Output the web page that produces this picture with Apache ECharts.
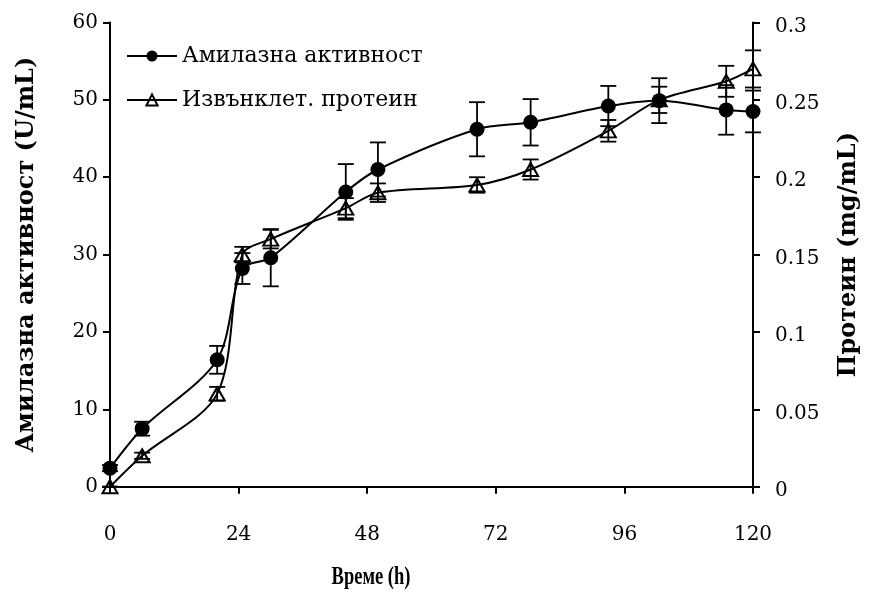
<!DOCTYPE html>
<html>
<head>
<meta charset="utf-8">
<script src="https://cdn.jsdelivr.net/npm/echarts@6/dist/echarts.min.js"></script>
<style>
  html, body { margin: 0; padding: 0; background: #fff; }
  #chart { width: 880px; height: 600px; }
</style>
</head>
<body>
<div id="chart"></div>
<script>
// Sampling times (h)
const times = [0, 6, 20, 24.7, 30, 44, 50, 68.5, 78.5, 93, 102.5, 115, 120];

// Amylase activity (U/mL) and its standard deviation
const amylase = [2.4, 7.5, 16.4, 28.2, 29.6, 38.1, 41.0, 46.2, 47.1, 49.2, 49.9, 48.7, 48.5];
const amylaseErr = [0.4, 0.9, 1.8, 2.0, 3.7, 3.6, 3.5, 3.5, 3.0, 2.6, 2.9, 3.2, 2.7];

// Extracellular protein (mg/mL) and its standard deviation
const protein = [0, 0.02, 0.06, 0.15, 0.16, 0.18, 0.19, 0.195, 0.205, 0.23, 0.25, 0.262, 0.27];
const proteinErr = [0, 0.002, 0.0045, 0.005, 0.006, 0.0065, 0.006, 0.005, 0.0065, 0.007, 0.0085, 0.01, 0.012];

const xTicks = [0, 24, 48, 72, 96, 120];
const seriesNames = ['Амилазна активност', 'Извънклет. протеин'];
const xTitle = 'Време (h)';

const FONT = '"DejaVu Serif", "Liberation Serif", serif';

function pairs(xs, ys) {
  return xs.map((x, i) => [x, ys[i]]);
}

function errorBars(name, yAxisIndex, xs, ys, es) {
  return {
    name: name + ' SD',
    type: 'custom',
    yAxisIndex: yAxisIndex,
    z: 5,
    silent: true,
    encode: { x: 0, y: [1, 2] },
    data: xs.map((x, i) => [x, ys[i] - es[i], ys[i] + es[i]]),
    renderItem: function (params, api) {
      const lo = api.coord([api.value(0), api.value(1)]);
      const hi = api.coord([api.value(0), api.value(2)]);
      const hw = 8;
      const style = { stroke: '#000', lineWidth: 1.8, fill: null };
      return {
        type: 'group',
        children: [
          { type: 'line', shape: { x1: lo[0], y1: lo[1], x2: hi[0], y2: hi[1] }, style: style },
          { type: 'line', shape: { x1: lo[0] - hw, y1: lo[1], x2: lo[0] + hw, y2: lo[1] }, style: style },
          { type: 'line', shape: { x1: hi[0] - hw, y1: hi[1], x2: hi[0] + hw, y2: hi[1] }, style: style }
        ]
      };
    }
  };
}

const axisLineStyle = { show: true, lineStyle: { color: '#000', width: 2 } };
const axisTickStyle = { show: true, inside: false, length: 7, lineStyle: { color: '#000', width: 2 } };
const tickFont = { color: '#000', fontFamily: FONT, fontSize: 20 };
const nameFont = { color: '#000', fontFamily: FONT, fontSize: 24, fontWeight: 'bold' };

const chart = echarts.init(document.getElementById('chart'), null, { renderer: 'canvas' });

chart.setOption({
  backgroundColor: '#fff',
  animation: false,
  grid: { left: 110, right: 127, top: 22.5, bottom: 113.3 },
  legend: {
    data: seriesNames,
    orient: 'vertical',
    left: 121,
    top: 40,
    itemWidth: 50,
    itemHeight: 14,
    itemGap: 22,
    textStyle: { color: '#000', fontFamily: FONT, fontSize: 22, lineHeight: 22 }
  },
  // horizontal axis title, in a narrow bold face
  graphic: [
    {
      type: 'text',
      x: 371,
      y: 578,
      scaleX: 0.74,
      silent: true,
      style: {
        text: xTitle,
        fill: '#000',
        font: 'bold 25px "Liberation Serif", serif',
        textAlign: 'center',
        textVerticalAlign: 'middle'
      }
    }
  ],
  xAxis: {
    type: 'value',
    min: xTicks[0],
    max: xTicks[xTicks.length - 1],
    interval: 24,
    axisLine: axisLineStyle,
    axisTick: axisTickStyle,
    axisLabel: Object.assign({ margin: 38 }, tickFont),
    splitLine: { show: false }
  },
  yAxis: [
    {
      type: 'value',
      min: 0,
      max: 60,
      interval: 10,
      position: 'left',
      name: 'Амилазна активност (U/mL)',
      nameLocation: 'middle',
      nameRotate: 90,
      nameGap: 71,
      nameTextStyle: nameFont,
      axisLine: axisLineStyle,
      axisTick: axisTickStyle,
      axisLabel: Object.assign({ margin: 12 }, tickFont),
      splitLine: { show: false }
    },
    {
      type: 'value',
      min: 0,
      max: 0.3,
      interval: 0.05,
      position: 'right',
      name: 'Протеин (mg/mL)',
      nameLocation: 'middle',
      nameRotate: 90,
      nameGap: 84,
      nameTextStyle: nameFont,
      axisLine: axisLineStyle,
      axisTick: axisTickStyle,
      axisLabel: Object.assign({ margin: 22, verticalAlign: 'top', lineHeight: 8 }, tickFont),
      splitLine: { show: false }
    }
  ],
  series: [
    {
      name: seriesNames[0],
      type: 'line',
      yAxisIndex: 0,
      smooth: 0.3,
      z: 3,
      symbol: 'circle',
      symbolSize: 15,
      data: pairs(times, amylase),
      lineStyle: { color: '#000', width: 2 },
      itemStyle: { color: '#000', borderColor: '#000', borderWidth: 0 }
    },
    {
      name: seriesNames[1],
      type: 'line',
      yAxisIndex: 1,
      smooth: 0.3,
      z: 3,
      symbol: 'triangle',
      symbolSize: [15, 13],
      data: pairs(times, protein),
      lineStyle: { color: '#000', width: 2 },
      itemStyle: { color: 'rgba(255,255,255,0)', borderColor: '#000', borderWidth: 2 }
    },
    errorBars(seriesNames[0], 0, times, amylase, amylaseErr),
    errorBars(seriesNames[1], 1, times, protein, proteinErr)
  ]
});
</script>
</body>
</html>
